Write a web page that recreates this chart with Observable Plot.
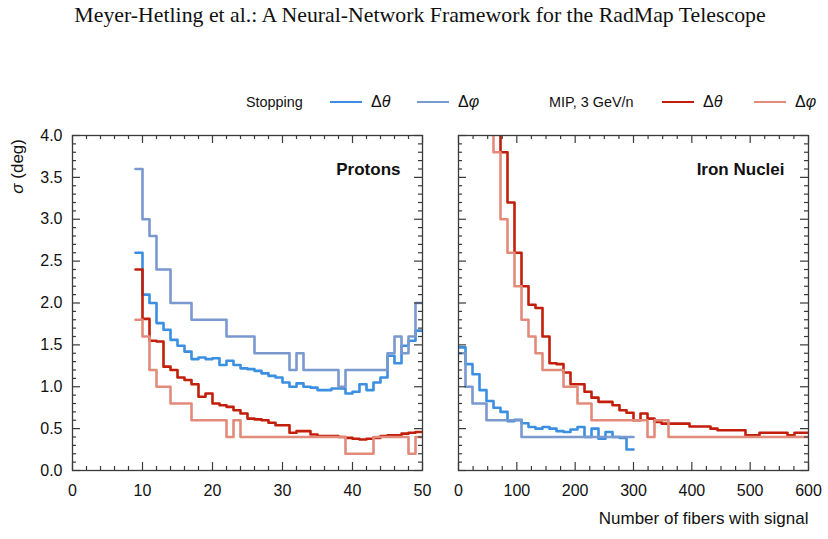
<!DOCTYPE html>
<html><head><meta charset="utf-8">
<script src="https://cdn.jsdelivr.net/npm/d3@7"></script>
<script src="https://cdn.jsdelivr.net/npm/@observablehq/plot@0.6"></script>
<style>
body{margin:0;background:#fff;}
#chart{position:relative;width:828px;height:539px;overflow:hidden;font-family:"Liberation Sans",Arial,sans-serif;color:#111;}
#title{position:absolute;left:0;width:840px;top:3px;text-align:center;font-family:"Liberation Serif","Times New Roman",serif;font-size:21.8px;line-height:24px;white-space:nowrap;}
.lg{position:absolute;top:92px;font-size:14.4px;line-height:20px;white-space:nowrap;}
.lg.m{font-size:16px;}
.sw{position:absolute;height:2.7px;top:100.8px;}
#ylab{position:absolute;left:18px;top:139px;font-size:17px;line-height:20px;white-space:nowrap;transform-origin:0 0;transform:rotate(-90deg) translate(-100%,-50%);}
.panel{position:absolute;top:120px;}
</style></head>
<body>
<div id="chart">
  <div id="title"></div>
  <div id="legend"></div>
  <div id="ylab"><i>σ</i> (deg)</div>
  <div id="left" class="panel"></div>
  <div id="right" class="panel"></div>
</div>
<script>
// ---------- data ----------
const titleText = "Meyer-Hetling et al.: A Neural-Network Framework for the RadMap Telescope";
const seriesNames = ["Stopping Δθ", "Stopping Δφ", "MIP Δθ", "MIP Δφ"];
const seriesColors = ["#3b8fe0", "#7a99cf", "#c21e0a", "#e38b7b"];

// Protons panel: bins of one fiber, 9..50 (last entry is the upper edge)
const protonFibers = [9,10,11,12,13,14,15,16,17,18,19,20,21,22,23,24,25,26,27,28,29,30,31,32,33,34,35,36,37,38,39,40,41,42,43,44,45,46,47,48,49,50];
const protonStopTheta = [2.6,2.1,2.0,1.76,1.68,1.56,1.49,1.42,1.33,1.35,1.33,1.34,1.26,1.31,1.26,1.22,1.21,1.19,1.16,1.13,1.11,1.05,1.00,1.04,1.00,0.99,0.96,0.96,0.98,0.98,0.92,0.94,1.03,0.96,1.05,1.11,1.37,1.28,1.49,1.55,1.67];
const protonStopPhi = [3.6,3.0,2.8,2.4,2.4,2.0,2.0,2.0,1.8,1.8,1.8,1.8,1.8,1.6,1.6,1.6,1.6,1.4,1.4,1.4,1.4,1.4,1.2,1.4,1.2,1.2,1.2,1.2,1.2,1.0,1.2,1.2,1.2,1.2,1.2,1.2,1.4,1.6,1.4,1.6,2.0];
const protonMipTheta = [2.4,1.81,1.55,1.54,1.24,1.20,1.11,1.08,1.03,0.88,0.92,0.80,0.78,0.76,0.72,0.68,0.62,0.61,0.60,0.57,0.54,0.54,0.45,0.47,0.47,0.43,0.41,0.41,0.41,0.40,0.39,0.38,0.37,0.38,0.39,0.41,0.42,0.42,0.44,0.45,0.46];
const protonMipPhi = [1.8,1.6,1.2,1.0,1.0,0.8,0.8,0.8,0.6,0.6,0.6,0.6,0.6,0.4,0.6,0.4,0.4,0.4,0.4,0.4,0.4,0.4,0.4,0.4,0.4,0.4,0.4,0.4,0.4,0.4,0.2,0.2,0.2,0.2,0.4,0.4,0.4,0.4,0.4,0.2,0.4];

// Iron nuclei panel: bins of 12 fibers
const ironFibers = [0,12,24,36,48,60,72,84,96,108,120,132,144,156,168,180,192,204,216,228,240,252,264,276,288,300,312,324,336,348,360,372,384,396,408,420,432,444,456,468,480,492,504,516,528,540,552,564,576,588,600];
const ironStopStart = 0, ironStopEnd = 300;
const ironStopTheta = [1.47,1.27,1.15,0.96,0.83,0.75,0.70,0.59,0.605,0.565,0.52,0.50,0.52,0.50,0.47,0.46,0.49,0.52,0.40,0.50,0.38,0.46,0.40,0.39,0.25];
const ironStopPhi = [1.4,1.0,0.8,0.8,0.6,0.6,0.6,0.6,0.6,0.4,0.4,0.4,0.4,0.4,0.4,0.4,0.4,0.4,0.4,0.4,0.4,0.4,0.4,0.4,0.4];
const ironMipThetaStart = 60;
const ironMipTheta = [5.0,3.8,3.2,2.6,2.2,1.98,1.94,1.60,1.28,1.27,1.17,1.03,1.03,0.94,0.87,0.82,0.82,0.78,0.72,0.69,0.60,0.68,0.62,0.58,0.56,0.56,0.56,0.56,0.525,0.525,0.525,0.50,0.48,0.48,0.48,0.48,0.42,0.42,0.45,0.45,0.45,0.45,0.42,0.45,0.45];
const ironMipPhiStart = 48;
const ironMipPhi = [5.0,3.8,3.0,2.6,2.2,1.8,1.6,1.4,1.2,1.2,1.2,1.0,1.0,0.8,0.8,0.6,0.6,0.6,0.6,0.6,0.6,0.6,0.6,0.4,0.6,0.6,0.4,0.4,0.4,0.4,0.4,0.4,0.4,0.4,0.4,0.4,0.4,0.4,0.4,0.4,0.4,0.4,0.4,0.4,0.4,0.4];

// axes
const yTicks = [0,0.5,1.0,1.5,2.0,2.5,3.0,3.5,4.0];
const protonXTicks = [0,10,20,30,40,50];
const ironXTicks = [0,100,200,300,400,500,600];
const panelTitles = ["Protons", "Iron Nuclei"];
const xAxisLabel = "Number of fibers with signal";

// ---------- helpers ----------
function steps(xs, vals) {
  return xs.map((x, i) => ({x, y: vals[Math.min(i, vals.length - 1)]}));
}
const FW = 350, FH = 335;
const tickStroke = "#3a3a3a";
function minorOf(lo, hi, step, majors) {
  return d3.range(lo, hi + step / 2, step).map(v => +v.toFixed(3)).filter(v => !majors.some(m => Math.abs(m - v) < 1e-6));
}
const yMinor = minorOf(0, 4, 0.1, yTicks);

function innerTicks(xMajor, xMinor) {
  const o = {stroke: tickStroke, strokeWidth: 1.2};
  return [
    Plot.tickX(xMajor, {x: d => d, insetTop: FH - 8, ...o}),
    Plot.tickX(xMajor, {x: d => d, insetBottom: FH - 8, ...o}),
    Plot.tickX(xMinor, {x: d => d, insetTop: FH - 4, ...o}),
    Plot.tickX(xMinor, {x: d => d, insetBottom: FH - 4, ...o}),
    Plot.tickY(yTicks, {y: d => d, insetRight: FW - 8, ...o}),
    Plot.tickY(yTicks, {y: d => d, insetLeft: FW - 8, ...o}),
    Plot.tickY(yMinor, {y: d => d, insetRight: FW - 4, ...o}),
    Plot.tickY(yMinor, {y: d => d, insetLeft: FW - 4, ...o})
  ];
}
function lineMarks(list) {
  return list.map(([data, i]) => Plot.line(data, {x: "x", y: "y", curve: "step-after", stroke: seriesColors[i], strokeWidth: 2.6, clip: true}));
}
const baseStyle = {fontFamily: "Liberation Sans, Arial, sans-serif", fontSize: "16px", color: "#111", background: "transparent", overflow: "visible"};

// ---------- title & legend ----------
document.getElementById("title").textContent = titleText;
const legend = document.getElementById("legend");
function addText(html, left, cls) {
  const d = document.createElement("div");
  d.className = "lg" + (cls ? " " + cls : "");
  d.style.left = left + "px";
  d.innerHTML = html;
  legend.appendChild(d);
}
function addSwatch(left, color) {
  const d = document.createElement("div");
  d.className = "sw";
  d.style.left = left + "px";
  d.style.width = "32px";
  d.style.background = color;
  legend.appendChild(d);
}
addText("Stopping", 246);
addSwatch(330, seriesColors[0]); addText("Δ<i>θ</i>", 371, "m");
addSwatch(417, seriesColors[1]); addText("Δ<i>φ</i>", 458, "m");
addText("MIP, 3 GeV/n", 549);
addSwatch(662, seriesColors[2]); addText("Δ<i>θ</i>", 703, "m");
addSwatch(754, seriesColors[3]); addText("Δ<i>φ</i>", 795, "m");

// ---------- left panel ----------
const leftML = 72, leftMR = 6;
const leftPlot = Plot.plot({
  width: leftML + FW + leftMR, height: 15 + FH + 70,
  marginLeft: leftML, marginRight: leftMR, marginTop: 15, marginBottom: 70,
  style: baseStyle,
  x: {domain: [0, 50], label: null},
  y: {domain: [0, 4], label: null},
  marks: [
    ...lineMarks([
      [steps(protonFibers, protonStopTheta), 0],
      [steps(protonFibers, protonStopPhi), 1],
      [steps(protonFibers, protonMipTheta), 2],
      [steps(protonFibers, protonMipPhi), 3]
    ]),
    ...innerTicks(protonXTicks, minorOf(0, 50, 2, protonXTicks)),
    Plot.frame({stroke: tickStroke, strokeWidth: 1.3}),
    Plot.axisX({ticks: protonXTicks, tickSize: 0, tickPadding: 14, label: null, tickFormat: d3.format("d")}),
    Plot.axisY({ticks: yTicks, tickSize: 0, tickPadding: 10, label: null, tickFormat: d3.format(".1f")}),
    Plot.text([panelTitles[0]], {frameAnchor: "top-right", dx: -22, dy: 27, textAnchor: "end", fontWeight: "bold", fontSize: 17})
  ]
});
const leftDiv = document.getElementById("left");
leftDiv.style.left = "0px";
leftDiv.appendChild(leftPlot);

// ---------- right panel ----------
const rightML = 20, rightMR = 20;
const ironStopX = ironFibers.filter(x => x >= ironStopStart && x <= ironStopEnd);
const rightPlot = Plot.plot({
  width: rightML + FW + rightMR, height: 15 + FH + 70,
  marginLeft: rightML, marginRight: rightMR, marginTop: 15, marginBottom: 70,
  style: baseStyle,
  x: {domain: [0, 600], label: null},
  y: {domain: [0, 4], label: null, axis: null},
  marks: [
    ...lineMarks([
      [steps(ironStopX, ironStopTheta), 0],
      [steps(ironStopX, ironStopPhi), 1],
      [steps(ironFibers.filter(x => x >= ironMipThetaStart), ironMipTheta), 2],
      [steps(ironFibers.filter(x => x >= ironMipPhiStart), ironMipPhi), 3]
    ]),
    ...innerTicks(ironXTicks, minorOf(0, 600, 25, ironXTicks)),
    Plot.frame({stroke: tickStroke, strokeWidth: 1.3}),
    Plot.axisX({ticks: ironXTicks, tickSize: 0, tickPadding: 14, label: null, tickFormat: d3.format("d")}),
    Plot.text([panelTitles[1]], {frameAnchor: "top-right", dx: -24, dy: 27, textAnchor: "end", fontWeight: "bold", fontSize: 17}),
    Plot.text([xAxisLabel], {frameAnchor: "bottom-right", dx: 0, dy: 53, textAnchor: "end", fontSize: 17})
  ]
});
const rightDiv = document.getElementById("right");
rightDiv.style.left = (458 - rightML) + "px";
rightDiv.appendChild(rightPlot);
</script>
</body></html>
